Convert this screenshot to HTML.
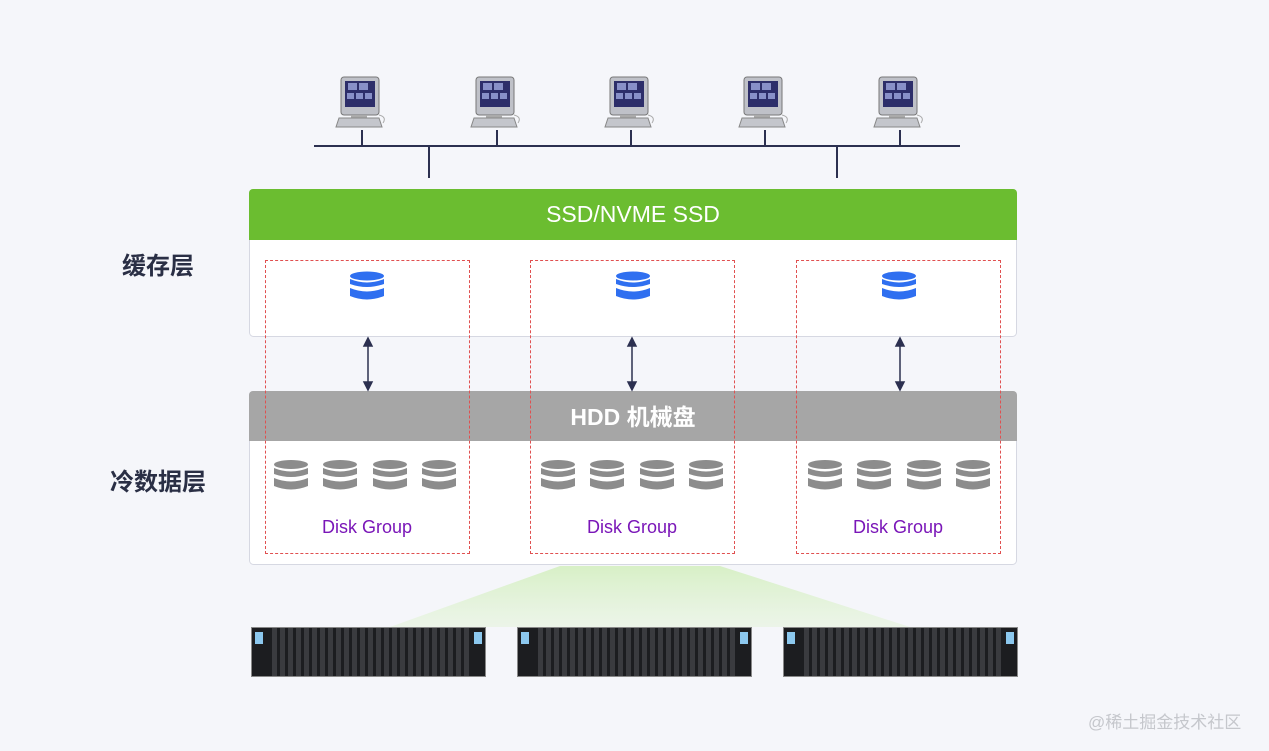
<!DOCTYPE html>
<html><head><meta charset="utf-8"><style>
body{margin:0;width:1269px;height:751px;background:#f5f6fa;position:relative;overflow:hidden;font-family:"Liberation Sans","Noto Sans CJK SC",sans-serif}
.a{position:absolute}
.lbl{font-size:24px;color:#2a2f45;font-weight:bold}
.dash{position:absolute;border:1px dashed #e05050;top:260px;width:203px;height:292px}
.dg{position:absolute;top:517px;width:204px;text-align:center;color:#7a16b8;font-size:18px}
.srv{position:absolute;top:627px;width:235px;height:50px;background:#1c1d20;border:1px solid #888;box-sizing:border-box;
background-image:repeating-linear-gradient(90deg,#1c1d20 0 2px,#3a3b3f 2px 7px,#1c1d20 7px 8px);background-size:200px 100%;background-position:18px 0;background-repeat:no-repeat}
.srv:before,.srv:after{content:"";position:absolute;top:4px;width:8px;height:12px;background:#8cc8ee}
.srv:before{left:3px}.srv:after{right:3px}
</style></head><body>
<svg class="a" style="left:0;top:0" width="1269" height="751">
<defs>
<linearGradient id="gr" x1="0" y1="0" x2="0" y2="1"><stop offset="0" stop-color="#d4efc0" stop-opacity=".9"/><stop offset="1" stop-color="#e2f3d6" stop-opacity=".5"/></linearGradient>
<g id="pc">
<rect x="-20" y="0" width="38" height="38" rx="3" fill="#bfc1c8" stroke="#777"/>
<rect x="-16" y="4" width="30" height="26" fill="#2d2e6a"/>
<rect x="-13" y="6" width="9" height="7" fill="#8890c8"/><rect x="-2" y="6" width="9" height="7" fill="#8890c8"/>
<rect x="-14" y="16" width="7" height="6" fill="#8890c8"/><rect x="-5" y="16" width="7" height="6" fill="#8890c8"/><rect x="4" y="16" width="7" height="6" fill="#8890c8"/>
<rect x="-10" y="38" width="16" height="4" fill="#aaa"/>
<path d="M-22 41 H18 L21 50 H-25 Z" fill="#c4c6cc" stroke="#888"/>
<path d="M18 38 q8 2 4 8" stroke="#aaa" fill="none"/>
</g>
<g id="bdb"><ellipse cx="0" cy="4" rx="17" ry="4.5"/><path d="M-17 7 q17 7 34 0 v5 q-17 6 -34 0Z"/><path d="M-17 16 q17 7 34 0 v8 q-17 7 -34 0Z"/></g>
<g id="gdb"><ellipse cx="0" cy="4.5" rx="17" ry="4.5"/><path d="M-17 8 q17 7 34 0 v6 q-17 6 -34 0Z"/><path d="M-17 18 q17 7 34 0 v8 q-17 7 -34 0Z"/></g>
</defs>
<use href="#pc" x="361" y="77"/><use href="#pc" x="496" y="77"/><use href="#pc" x="630" y="77"/><use href="#pc" x="764" y="77"/><use href="#pc" x="899" y="77"/>
<g stroke="#2c3050" stroke-width="2">
<line x1="314" y1="146" x2="960" y2="146"/>
<line x1="362" y1="130" x2="362" y2="146"/><line x1="497" y1="130" x2="497" y2="146"/><line x1="631" y1="130" x2="631" y2="146"/><line x1="765" y1="130" x2="765" y2="146"/><line x1="900" y1="130" x2="900" y2="146"/>
<line x1="429" y1="146" x2="429" y2="178"/><line x1="837" y1="146" x2="837" y2="178"/>
</g>
<path d="M560 566 L720 566 L910 627 L390 627 Z" fill="url(#gr)"/>
<rect x="249.5" y="189.5" width="767" height="147" rx="4" fill="#fff" stroke="#d6d8e2"/>
<path d="M249 193 a4 4 0 0 1 4 -4 H1013 a4 4 0 0 1 4 4 V240 H249Z" fill="#6bbd30"/>
<rect x="249.5" y="391.5" width="767" height="173" rx="4" fill="#fff" stroke="#d6d8e2"/>
<path d="M249 395 a4 4 0 0 1 4 -4 H1013 a4 4 0 0 1 4 4 V441 H249Z" fill="#a6a6a6"/>
<g fill="#2f6ff0"><use href="#bdb" x="367" y="272"/><use href="#bdb" x="633" y="272"/><use href="#bdb" x="899" y="272"/></g>
<g fill="#8c8c8c">
<use href="#gdb" x="291" y="460"/><use href="#gdb" x="340" y="460"/><use href="#gdb" x="390" y="460"/><use href="#gdb" x="439" y="460"/>
<use href="#gdb" x="558" y="460"/><use href="#gdb" x="607" y="460"/><use href="#gdb" x="657" y="460"/><use href="#gdb" x="706" y="460"/>
<use href="#gdb" x="825" y="460"/><use href="#gdb" x="874" y="460"/><use href="#gdb" x="924" y="460"/><use href="#gdb" x="973" y="460"/>
</g>
<g stroke="#2c3050" stroke-width="1.5" fill="#2c3050">
<line x1="368" y1="344" x2="368" y2="384"/><path d="M364 346 L368 338 L372 346Z M364 382 L368 390 L372 382Z"/>
<line x1="632" y1="344" x2="632" y2="384"/><path d="M628 346 L632 338 L636 346Z M628 382 L632 390 L636 382Z"/>
<line x1="900" y1="344" x2="900" y2="384"/><path d="M896 346 L900 338 L904 346Z M896 382 L900 390 L904 382Z"/>
</g>
</svg>
<div class="a" style="left:249px;top:201px;width:768px;text-align:center;color:#fff;font-size:23px">SSD/NVME SSD</div>
<div class="a" style="left:249px;top:398px;width:768px;text-align:center;color:#fff;font-size:23px;font-weight:bold">HDD 机械盘</div>
<div class="a lbl" style="left:122px;top:246px">缓存层</div>
<div class="a lbl" style="left:110px;top:462px">冷数据层</div>
<div class="dash" style="left:265px"></div><div class="dash" style="left:530px"></div><div class="dash" style="left:796px"></div>
<div class="dg" style="left:265px">Disk Group</div><div class="dg" style="left:530px">Disk Group</div><div class="dg" style="left:796px">Disk Group</div>
<div class="srv" style="left:251px"></div><div class="srv" style="left:517px"></div><div class="srv" style="left:783px"></div>
<div class="a" style="left:1088px;top:708px;color:#c5c7cc;font-size:17px">@稀土掘金技术社区</div>
</body></html>
